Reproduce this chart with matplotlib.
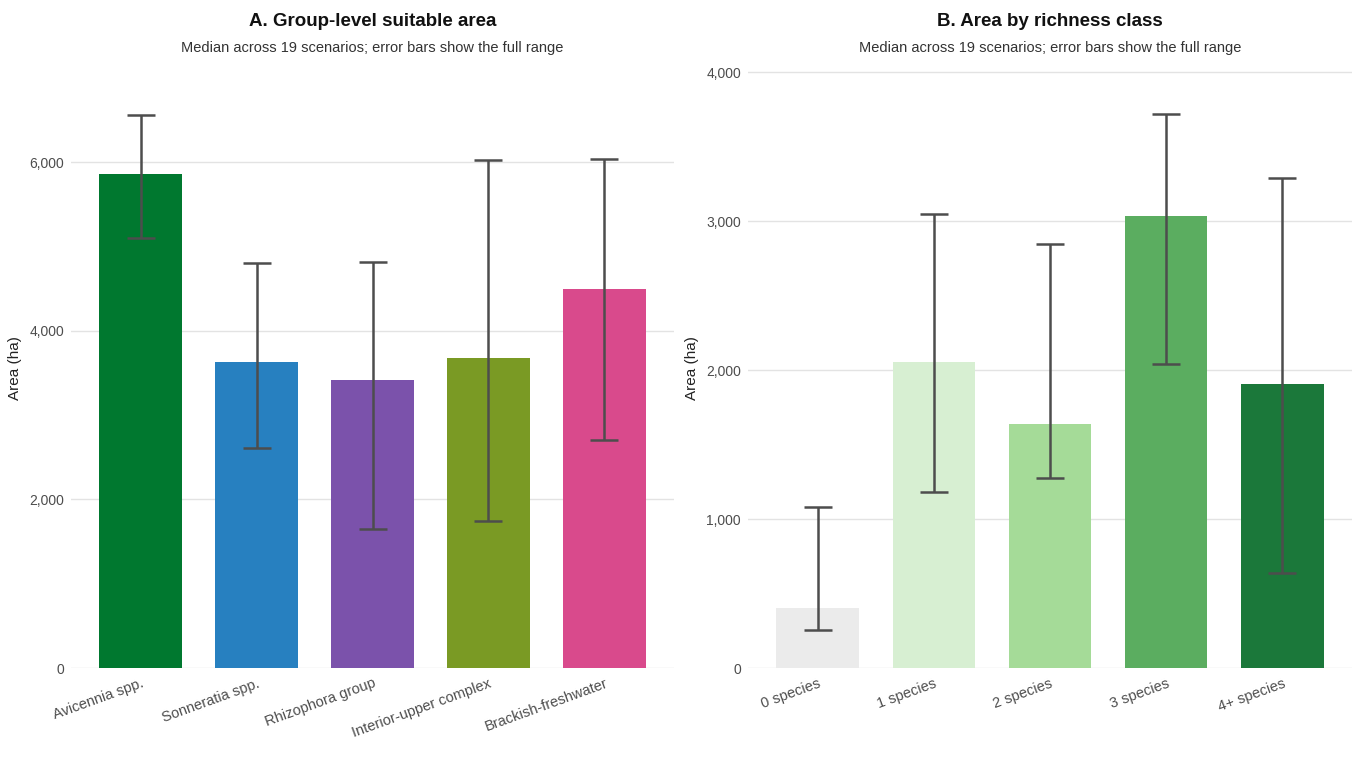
"""
Two-panel bar chart: group-level suitable area and area by richness class.
Median across 19 scenarios, error bars show min-max range.
"""

import numpy as np
import matplotlib
matplotlib.use("Agg")
import matplotlib.pyplot as plt
from matplotlib.ticker import FuncFormatter

plt.rcParams["font.family"] = ["Liberation Sans Narrow", "Liberation Sans", "DejaVu Sans"]

# panel A: groups
groups = ["Avicennia spp.", "Sonneratia spp.", "Rhizophora group",
          "Interior-upper complex", "Brackish-freshwater"]
group_median = [5860, 3630, 3420, 3680, 4500]
group_min = [5100, 2610, 1650, 1740, 2700]
group_max = [6560, 4800, 4810, 6030, 6040]
group_colors = ["#00782F", "#2780C0", "#7B52AB", "#7A9A24", "#D94A8C"]

# panel B: richness classes
classes = ["0 species", "1 species", "2 species", "3 species", "4+ species"]
class_median = [405, 2055, 1640, 3035, 1905]
class_min = [252, 1180, 1275, 2040, 638]
class_max = [1080, 3045, 2845, 3718, 3289]
class_colors = ["#EBEBEB", "#D7EFD2", "#A5DB98", "#5BAD60", "#1B783A"]

SUBTITLE = "Median across 19 scenarios; error bars show the full range"


def draw_panel(ax, cats, med, lo, hi, colors, title, ymax, yticks):
    x = np.arange(len(cats))
    med = np.asarray(med); lo = np.asarray(lo); hi = np.asarray(hi)
    ax.bar(x, med, width=0.71, color=colors, zorder=2)
    ax.errorbar(x, med, yerr=[med - lo, hi - med], fmt="none",
                ecolor="#4D4D4D", elinewidth=1.8, capsize=10, capthick=1.8,
                zorder=3)
    ax.set_xlim(-0.6, len(cats) - 0.4)
    ax.set_ylim(0, ymax)
    ax.set_yticks(yticks)
    ax.yaxis.set_major_formatter(FuncFormatter(lambda v, p: f"{v:,.0f}"))
    ax.set_xticks(x)
    ax.set_xticklabels(cats, rotation=20, ha="right", va="top",
                       rotation_mode="anchor", fontsize=10.5, color="#4D4D4D")
    ax.tick_params(axis="y", labelsize=10, labelcolor="#4D4D4D", length=0, pad=5)
    ax.tick_params(axis="x", length=0, pad=6)
    ax.grid(axis="y", color="#E3E3E3", linewidth=1.0, zorder=0)
    ax.set_axisbelow(True)
    for s in ax.spines.values():
        s.set_visible(False)
    ax.set_ylabel("Area (ha)", fontsize=11, color="#222222", labelpad=5)
    ax.text(0.5, 1.0 + 46 / 600, title, transform=ax.transAxes, ha="center",
            va="center", fontsize=13.5, fontweight="bold", color="#111111")
    ax.text(0.5, 1.0 + 20 / 600, SUBTITLE, transform=ax.transAxes, ha="center",
            va="center", fontsize=10.5, color="#333333")


fig = plt.figure(figsize=(13.59, 7.60), dpi=100)
bottom = 1 - 668 / 760
height = 600 / 760
ax_a = fig.add_axes([71 / 1359, bottom, 603 / 1359, height])
ax_b = fig.add_axes([748 / 1359, bottom, 604 / 1359, height])

draw_panel(ax_a, groups, group_median, group_min, group_max, group_colors,
           "A. Group-level suitable area", 7117, [0, 2000, 4000, 6000])
draw_panel(ax_b, classes, class_median, class_min, class_max, class_colors,
           "B. Area by richness class", 4027, [0, 1000, 2000, 3000, 4000])

fig.savefig("out.png", dpi=100, facecolor="white")
